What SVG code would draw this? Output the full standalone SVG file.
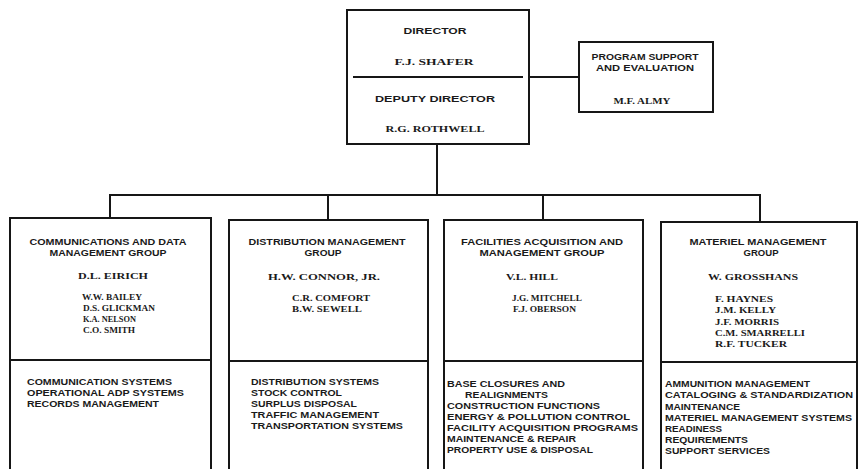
<svg xmlns="http://www.w3.org/2000/svg" width="858" height="469" viewBox="0 0 858 469">
  <style>
    .box { fill: none; stroke: #161616; stroke-width: 2; }
    .wire { fill: none; stroke: #161616; stroke-width: 2; }
    .t { font-family: "Liberation Sans", Arial, sans-serif; font-weight: bold; fill: #1a1a1a; }
    .s { font-family: "Liberation Serif", "Times New Roman", serif; font-weight: bold; fill: #1a1a1a; }
    .head { font-size: 9.5px; text-anchor: middle; }
    .lead { font-size: 9px; text-anchor: middle; }
    .name { font-size: 7.5px; }
    .duty { font-size: 8.5px; }
  </style>

  <!-- connectors -->
  <g id="connectors">
    <path class="wire" d="M437 144 V195"/>
    <path class="wire" d="M529 77 H579"/>
    <path class="wire" d="M110 218 V195 H760 V222"/>
    <path class="wire" d="M328 195 V220"/>
    <path class="wire" d="M543 195 V220"/>
  </g>

  <!-- director / deputy director -->
  <g id="director">
    <rect class="box" x="347" y="10" width="182" height="134"/>
    <line class="wire" x1="353" y1="77" x2="523" y2="77" stroke-width="1.6"/>
    <text class="t head" x="435" y="34" textLength="63" lengthAdjust="spacingAndGlyphs">DIRECTOR</text>
    <text class="s lead" x="434" y="65" textLength="79" lengthAdjust="spacingAndGlyphs" font-size="10">F.J. SHAFER</text>
    <text class="t head" x="435" y="102" textLength="120" lengthAdjust="spacingAndGlyphs" font-size="11.5">DEPUTY DIRECTOR</text>
    <text class="s lead" x="435" y="132" textLength="99" lengthAdjust="spacingAndGlyphs" font-size="10">R.G. ROTHWELL</text>
  </g>

  <!-- program support and evaluation -->
  <g id="program-support">
    <rect class="box" x="579" y="42" width="134" height="70"/>
    <text class="t head" x="645" y="60" textLength="107" lengthAdjust="spacingAndGlyphs" font-size="9">PROGRAM SUPPORT</text>
    <text class="t head" x="645" y="71" textLength="98" lengthAdjust="spacingAndGlyphs" font-size="9">AND EVALUATION</text>
    <text class="s lead" x="642" y="104" textLength="57" lengthAdjust="spacingAndGlyphs" font-size="8">M.F. ALMY</text>
  </g>

  <!-- communications and data management group -->
  <g id="comm-data">
    <path class="box" d="M10 470 V218 H211 V470"/>
    <line class="wire" x1="10" y1="360" x2="211" y2="360"/>
    <text class="t head" x="108" y="245" textLength="157" lengthAdjust="spacingAndGlyphs">COMMUNICATIONS AND DATA</text>
    <text class="t head" x="108" y="256" textLength="117" lengthAdjust="spacingAndGlyphs">MANAGEMENT GROUP</text>
    <text class="s lead" x="113" y="279" textLength="70" lengthAdjust="spacingAndGlyphs">D.L. EIRICH</text>
    <text class="s name" x="82" y="300" textLength="60" lengthAdjust="spacingAndGlyphs">W.W. BAILEY</text>
    <text class="s name" x="83" y="311" textLength="72" lengthAdjust="spacingAndGlyphs">D.S. GLICKMAN</text>
    <text class="s name" x="83" y="322" textLength="53" lengthAdjust="spacingAndGlyphs">K.A. NELSON</text>
    <text class="s name" x="83" y="333" textLength="52" lengthAdjust="spacingAndGlyphs">C.O. SMITH</text>
    <text class="t duty" x="27" y="385" textLength="145" lengthAdjust="spacingAndGlyphs">COMMUNICATION SYSTEMS</text>
    <text class="t duty" x="27" y="396" textLength="157" lengthAdjust="spacingAndGlyphs">OPERATIONAL ADP SYSTEMS</text>
    <text class="t duty" x="27" y="407" textLength="132" lengthAdjust="spacingAndGlyphs">RECORDS MANAGEMENT</text>
  </g>

  <!-- distribution management group -->
  <g id="distribution">
    <path class="box" d="M229 470 V220 H428 V470"/>
    <line class="wire" x1="229" y1="361" x2="428" y2="361"/>
    <text class="t head" x="327" y="245" textLength="157" lengthAdjust="spacingAndGlyphs">DISTRIBUTION MANAGEMENT</text>
    <text class="t head" x="323" y="256" textLength="37" lengthAdjust="spacingAndGlyphs">GROUP</text>
    <text class="s lead" x="324" y="280" textLength="112" lengthAdjust="spacingAndGlyphs">H.W. CONNOR, JR.</text>
    <text class="s name" x="292" y="301" textLength="78" lengthAdjust="spacingAndGlyphs">C.R. COMFORT</text>
    <text class="s name" x="292" y="312" textLength="70" lengthAdjust="spacingAndGlyphs">B.W. SEWELL</text>
    <text class="t duty" x="251" y="385" textLength="128" lengthAdjust="spacingAndGlyphs">DISTRIBUTION SYSTEMS</text>
    <text class="t duty" x="251" y="396" textLength="91" lengthAdjust="spacingAndGlyphs">STOCK CONTROL</text>
    <text class="t duty" x="251" y="407" textLength="106" lengthAdjust="spacingAndGlyphs">SURPLUS DISPOSAL</text>
    <text class="t duty" x="251" y="418" textLength="128" lengthAdjust="spacingAndGlyphs">TRAFFIC MANAGEMENT</text>
    <text class="t duty" x="251" y="429" textLength="152" lengthAdjust="spacingAndGlyphs">TRANSPORTATION SYSTEMS</text>
  </g>

  <!-- facilities acquisition and management group -->
  <g id="facilities">
    <path class="box" d="M444 470 V220 H643 V470"/>
    <line class="wire" x1="444" y1="361" x2="643" y2="361"/>
    <text class="t head" x="542" y="245" textLength="162" lengthAdjust="spacingAndGlyphs">FACILITIES ACQUISITION AND</text>
    <text class="t head" x="542" y="256" textLength="125" lengthAdjust="spacingAndGlyphs">MANAGEMENT GROUP</text>
    <text class="s lead" x="532" y="280" textLength="52" lengthAdjust="spacingAndGlyphs">V.L. HILL</text>
    <text class="s name" x="512" y="301" textLength="70" lengthAdjust="spacingAndGlyphs">J.G. MITCHELL</text>
    <text class="s name" x="513" y="312" textLength="63" lengthAdjust="spacingAndGlyphs">F.J. OBERSON</text>
    <text class="t duty" x="447" y="387" textLength="118" lengthAdjust="spacingAndGlyphs">BASE CLOSURES AND</text>
    <text class="t duty" x="465" y="398" textLength="83" lengthAdjust="spacingAndGlyphs">REALIGNMENTS</text>
    <text class="t duty" x="447" y="409" textLength="153" lengthAdjust="spacingAndGlyphs">CONSTRUCTION FUNCTIONS</text>
    <text class="t duty" x="447" y="420" textLength="183" lengthAdjust="spacingAndGlyphs">ENERGY &amp; POLLUTION CONTROL</text>
    <text class="t duty" x="447" y="431" textLength="191" lengthAdjust="spacingAndGlyphs">FACILITY ACQUISITION PROGRAMS</text>
    <text class="t duty" x="447" y="442" textLength="129" lengthAdjust="spacingAndGlyphs">MAINTENANCE &amp; REPAIR</text>
    <text class="t duty" x="447" y="453" textLength="146" lengthAdjust="spacingAndGlyphs">PROPERTY USE &amp; DISPOSAL</text>
  </g>

  <!-- materiel management group -->
  <g id="materiel">
    <path class="box" d="M661 470 V222 H857 V470"/>
    <line class="wire" x1="661" y1="362" x2="858" y2="362"/>
    <text class="t head" x="758" y="245" textLength="137" lengthAdjust="spacingAndGlyphs">MATERIEL MANAGEMENT</text>
    <text class="t head" x="761" y="256" textLength="35" lengthAdjust="spacingAndGlyphs">GROUP</text>
    <text class="s lead" x="753" y="280" textLength="90" lengthAdjust="spacingAndGlyphs">W. GROSSHANS</text>
    <text class="s name" x="715" y="302" textLength="58" lengthAdjust="spacingAndGlyphs">F. HAYNES</text>
    <text class="s name" x="715" y="313" textLength="61" lengthAdjust="spacingAndGlyphs">J.M. KELLY</text>
    <text class="s name" x="715" y="324.5" textLength="64" lengthAdjust="spacingAndGlyphs">J.F. MORRIS</text>
    <text class="s name" x="715" y="336" textLength="90" lengthAdjust="spacingAndGlyphs">C.M. SMARRELLI</text>
    <text class="s name" x="715" y="347" textLength="72" lengthAdjust="spacingAndGlyphs">R.F. TUCKER</text>
    <text class="t duty" x="665" y="387" textLength="145" lengthAdjust="spacingAndGlyphs">AMMUNITION MANAGEMENT</text>
    <text class="t duty" x="665" y="398" textLength="188" lengthAdjust="spacingAndGlyphs">CATALOGING &amp; STANDARDIZATION</text>
    <text class="t duty" x="665" y="409.5" textLength="75" lengthAdjust="spacingAndGlyphs">MAINTENANCE</text>
    <text class="t duty" x="665" y="420.5" textLength="187" lengthAdjust="spacingAndGlyphs">MATERIEL MANAGEMENT SYSTEMS</text>
    <text class="t duty" x="665" y="432" textLength="57" lengthAdjust="spacingAndGlyphs">READINESS</text>
    <text class="t duty" x="665" y="443" textLength="83" lengthAdjust="spacingAndGlyphs">REQUIREMENTS</text>
    <text class="t duty" x="665" y="454" textLength="105" lengthAdjust="spacingAndGlyphs">SUPPORT SERVICES</text>
  </g>
</svg>
